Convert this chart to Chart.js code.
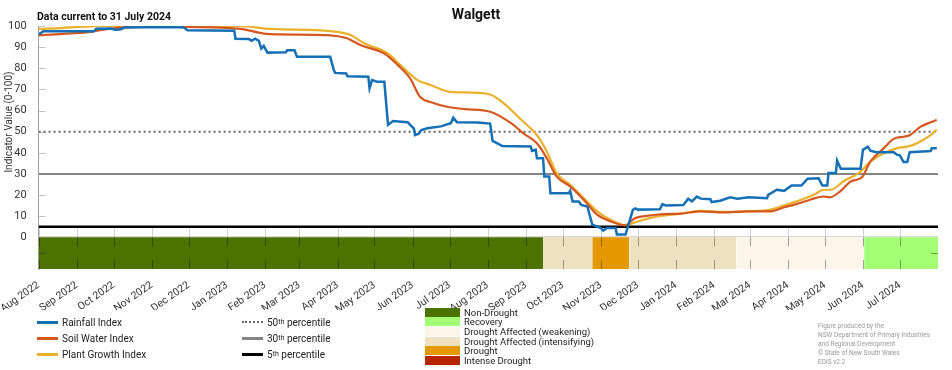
<!DOCTYPE html>
<html>
<head>
<meta charset="utf-8">
<script src="https://cdn.jsdelivr.net/npm/chart.js@4.4.1/dist/chart.umd.min.js"></script>
<style>
  body { margin: 0; background: #fff; }
  #wrap { position: relative; width: 952px; height: 370px; font-family: Roboto, sans-serif; color: #222; }
  #wrap canvas { position: absolute; left: 0; top: 0; }
  .row { position: absolute; display: flex; align-items: center; white-space: nowrap; }
  .line-key { font-size: 10px; }
  .band-key { font-size: 9.5px; }
  .band-key .sw { width: 35px; height: 9px; margin-right: 4px; }
  .line-key .ln { width: 21px; height: 0; margin-right: 4px; }
  sup { font-size: 7px; line-height: 0; vertical-align: 4px; }
  #credit { position: absolute; left: 818px; top: 322px; font-size: 6.5px; line-height: 9px; color: #999; }
</style>
</head>
<body>
<div id="wrap">
  <canvas id="myChart" width="952" height="370"></canvas>
  <div id="legend"></div>
  <div id="credit">Figure produced by the<br>NSW Department of Primary Industries<br>and Regional Development<br>© State of New South Wales<br>EDIS v2.2</div>
</div>
<script>
const stationName = 'Walgett';
const dataCurrentTo = 'Data current to 31 July 2024';

// x values are days since 1 Aug 2022
const rainDays = [0, 4, 45, 47, 59, 62, 66, 70, 110, 118, 121, 159, 160, 171, 173, 176, 179, 181, 183, 186,
  201, 202, 208, 210, 237, 240, 241, 250, 251, 268, 269, 271, 275, 281, 284, 288, 300, 302, 305, 306,
  309, 311, 316, 327, 335, 337, 340, 357, 367, 369, 377, 400, 401, 404, 405, 410, 411, 415, 416, 431,
  432, 434, 439, 441, 446, 450, 457, 459, 462, 469, 470, 477, 478, 483, 485, 487, 505, 507, 510, 524,
  528, 531, 535, 538, 546, 547, 554, 562, 568, 577, 592, 593, 600, 606, 612, 620, 625, 634, 637, 641,
  642, 648, 649, 652, 668, 670, 674, 676, 681, 695, 698, 700, 703, 706, 708, 725, 726, 730];
const rainValues = [96, 97.5, 97.5, 98.7, 98.8, 98.2, 98.3, 99.3, 99.5, 99.3, 98, 97.8, 94, 93.8, 93, 94, 93, 89.3, 90.6, 87.4,
  87.6, 88.5, 88.5, 85.4, 85.4, 79, 77.8, 77.5, 76.2, 76, 70.5, 74.4, 73.6, 73.6, 53.2, 55, 54.5, 53.2, 51.5, 48.4,
  49, 50.8, 51.6, 52.5, 54, 56.6, 54.5, 54.3, 53.8, 45.6, 43.2, 43, 40.9, 41.5, 37.4, 37.4, 28.8, 28.8, 20.9, 20.9,
  22, 17, 17, 15.3, 14.6, 6, 4.4, 3.2, 4.4, 4.4, 1.3, 1.3, 3.2, 13, 13.7, 13.1, 13.3, 15.7, 15, 15.3,
  18.3, 17, 19.3, 18.3, 18, 16.7, 17.3, 18.9, 18.3, 18.9, 18.5, 20.1, 22.5, 22, 24.5, 24.5, 27.7, 27.9, 24.5, 24.5,
  30.4, 30.4, 36.3, 32.4, 32.4, 41.4, 42.9, 41, 40.3, 40.3, 39, 38.8, 35.6, 35.6, 40.3, 40.8, 42.2, 42.2];

const soilDays = [0, 42, 59, 88, 162, 183, 197, 237, 250, 254, 262, 281, 292, 302, 310, 319, 332, 346, 367, 384,
  394, 405, 413, 421, 432, 443, 454, 465, 477, 484, 495, 508, 522, 538, 557, 576, 595, 606, 616, 627,
  638, 643, 652, 660, 669, 676, 687, 695, 703, 708, 717, 725, 730];
const soilValues = [95.6, 97.2, 98.8, 99.7, 98.8, 96.4, 96, 95.6, 94.3, 93.3, 90.9, 87, 81.5, 75.2, 66.5, 63.9, 61.8, 60.7, 59.4, 54,
  49.2, 44.5, 37.5, 28.8, 24.1, 17.8, 10.7, 7.5, 5.7, 8.8, 10.2, 11, 11.2, 12.3, 11.8, 12.3, 12.3, 14.2, 15.7, 17.8,
  19.3, 18.9, 22, 26.4, 28.3, 35.8, 42.2, 46.6, 47.6, 48.3, 52.4, 54.4, 55.5];

const plantDays = [0, 59, 162, 189, 237, 250, 254, 265, 284, 294, 308, 319, 335, 351, 367, 378, 394, 405, 413, 421,
  432, 443, 454, 465, 477, 487, 503, 522, 538, 557, 576, 595, 606, 616, 630, 638, 644, 654, 668, 676,
  687, 698, 706, 714, 725, 730];
const plantValues = [98.5, 100, 100, 98.6, 97.6, 96.4, 95.6, 91.7, 87, 81.5, 74.4, 72, 68.8, 68.5, 67.6, 63.4, 54.7, 48.4, 40.6, 30.4,
  24.9, 18.6, 12.3, 8.3, 5.7, 7.5, 9.9, 11.2, 12.5, 12, 12.3, 13.1, 15.1, 17, 20.1, 22.5, 22.5, 26.4, 31.1, 35.8,
  39.8, 42.2, 42.9, 44.5, 48.4, 50.8];

const seriesNames = ['Rainfall Index', 'Soil Water Index', 'Plant Growth Index'];
const seriesColors = ['#1570b6', '#d4581f', '#ebb02c'];

const percentileLevels = [50, 30, 5];
const percentileNames = ['50', '30', '5'];

const droughtCategories = ['Non-Drought', 'Recovery', 'Drought Affected (weakening)',
  'Drought Affected (intensifying)', 'Drought', 'Intense Drought'];
const droughtColors = ['#4c7300', '#a3ff73', '#fdf5e9', '#eee2c0', '#e69800', '#b52600'];

// drought status periods, days since 1 Aug 2022
const bandCategory = ['Non-Drought', 'Drought Affected (intensifying)', 'Drought',
  'Drought Affected (intensifying)', 'Drought Affected (weakening)', 'Recovery'];
const bandStart = [0, 410, 450, 480, 567, 671];
const bandEnd = [410, 450, 480, 567, 671, 731];

const monthLabels = ['Aug 2022', 'Sep 2022', 'Oct 2022', 'Nov 2022', 'Dec 2022', 'Jan 2023', 'Feb 2023',
  'Mar 2023', 'Apr 2023', 'May 2023', 'Jun 2023', 'Jul 2023', 'Aug 2023', 'Sep 2023', 'Oct 2023',
  'Nov 2023', 'Dec 2023', 'Jan 2024', 'Feb 2024', 'Mar 2024', 'Apr 2024', 'May 2024', 'Jun 2024', 'Jul 2024'];
const yTicks = [0, 10, 20, 30, 40, 50, 60, 70, 80, 90, 100];

const DAY = 86400000;
const origin = Date.UTC(2022, 7, 1);
const monthDays = monthLabels.map((_, i) => (Date.UTC(2022, 7 + i, 1) - origin) / DAY);
const xMax = (Date.UTC(2024, 7, 1) - origin) / DAY;
const bandFloor = -15;

const toPoints = (xs, ys) => xs.map((x, i) => ({ x: x, y: ys[i] }));

const indexSets = [
  [rainDays, rainValues, 2.5, 0],
  [soilDays, soilValues, 2.2, 0.3],
  [plantDays, plantValues, 2.2, 0.3]
].map(([xs, ys, w, t], i) => ({
  label: seriesNames[i],
  data: toPoints(xs, ys),
  borderColor: seriesColors[i],
  borderWidth: w,
  tension: t,
  cubicInterpolationMode: t ? 'monotone' : 'default',
  pointRadius: 0,
  fill: false,
  order: 1
}));

const pctStyle = [
  { color: '#666', width: 2, dash: [2, 3] },
  { color: '#858585', width: 2, dash: [] },
  { color: '#000', width: 2.5, dash: [] }
];
const pctSets = percentileLevels.map((v, i) => ({
  label: percentileNames[i] + 'th percentile',
  data: [{ x: 0, y: v }, { x: xMax, y: v }],
  borderColor: pctStyle[i].color,
  borderWidth: pctStyle[i].width,
  borderDash: pctStyle[i].dash,
  pointRadius: 0,
  fill: false,
  order: 2
}));

const bandSets = bandCategory.map((c, i) => ({
  label: c,
  data: [{ x: bandStart[i], y: 0 }, { x: bandEnd[i], y: 0 }],
  borderWidth: 0,
  borderColor: 'transparent',
  backgroundColor: droughtColors[droughtCategories.indexOf(c)],
  fill: { value: bandFloor },
  pointRadius: 0,
  order: 3
}));

const decor = {
  id: 'decor',
  beforeDatasetsDraw(chart) {
    const { ctx, chartArea: a, scales: { x, y } } = chart;
    ctx.save();
    // zero line
    ctx.strokeStyle = '#c8c8c8';
    ctx.lineWidth = 1;
    ctx.beginPath();
    ctx.moveTo(a.left, y.getPixelForValue(0) - 0.5);
    ctx.lineTo(a.right, y.getPixelForValue(0) - 0.5);
    ctx.stroke();
    // month lines between 5th percentile and zero
    ctx.strokeStyle = '#cfcfcf';
    monthDays.forEach(d => {
      const px = Math.round(x.getPixelForValue(d)) + 0.5;
      ctx.beginPath();
      ctx.moveTo(px, y.getPixelForValue(5));
      ctx.lineTo(px, y.getPixelForValue(0));
      ctx.stroke();
    });
    // inner ticks on y axis
    ctx.strokeStyle = '#c0c0c0';
    yTicks.slice(1).forEach(v => {
      const py = Math.round(y.getPixelForValue(v)) + 0.5;
      ctx.beginPath();
      ctx.moveTo(a.left, py);
      ctx.lineTo(a.left + 7, py);
      ctx.stroke();
    });
    ctx.restore();
  },
  afterDatasetsDraw(chart) {
    const { ctx, chartArea: a, scales: { x, y } } = chart;
    const top = y.getPixelForValue(0), bot = y.getPixelForValue(bandFloor);
    ctx.save();
    ctx.strokeStyle = 'rgba(0,0,0,0.35)';
    ctx.lineWidth = 1;
    monthDays.forEach(d => {
      const px = Math.round(x.getPixelForValue(d)) + 0.5;
      ctx.beginPath();
      ctx.moveTo(px, top);
      ctx.lineTo(px, top + 9);
      ctx.moveTo(px, bot - 9);
      ctx.lineTo(px, bot);
      ctx.stroke();
    });
    const mid = Math.round(y.getPixelForValue(bandFloor / 2)) + 0.5;
    ctx.beginPath();
    ctx.moveTo(a.left, mid); ctx.lineTo(a.left + 7, mid);
    ctx.moveTo(a.right - 7, mid); ctx.lineTo(a.right, mid);
    ctx.stroke();

    // titles
    ctx.fillStyle = '#111';
    ctx.textBaseline = 'middle';
    ctx.font = 'bold 14px Roboto';
    ctx.textAlign = 'center';
    ctx.fillText(stationName, chart.width / 2, 15);
    ctx.font = 'bold 10.5px Roboto';
    ctx.textAlign = 'left';
    ctx.fillText(dataCurrentTo, 37, 17);
    ctx.translate(9, 122);
    ctx.rotate(-Math.PI / 2);
    ctx.textAlign = 'center';
    ctx.fillStyle = '#333';
    ctx.font = '10px Roboto';
    ctx.fillText('Indicator Value (0-100)', 0, 0);
    ctx.restore();
  }
};

Chart.defaults.font.family = 'Roboto';
Chart.defaults.color = '#333';

new Chart(document.getElementById('myChart'), {
  type: 'line',
  data: { datasets: [...indexSets, ...pctSets, ...bandSets] },
  options: {
    responsive: false,
    animation: false,
    parsing: true,
    layout: { padding: { top: 26, right: 14, bottom: 60, left: 0 } },
    plugins: { legend: { display: false }, tooltip: { enabled: false } },
    scales: {
      x: {
        type: 'linear',
        min: 0,
        max: xMax,
        grid: { display: false },
        border: { display: false },
        afterBuildTicks: axis => { axis.ticks = monthDays.map(v => ({ value: v })); },
        afterFit: axis => { axis.height = 41; },
        ticks: {
          autoSkip: false,
          minRotation: 35,
          maxRotation: 35,
          padding: 2,
          font: { size: 10.5 },
          callback: (v, i) => monthLabels[i]
        }
      },
      y: {
        min: bandFloor,
        max: 100,
        grid: { display: false },
        border: { display: true, color: '#a0a0a0' },
        afterBuildTicks: axis => { axis.ticks = yTicks.map(v => ({ value: v })); },
        afterFit: axis => { axis.width = 38; },
        ticks: { padding: 4, font: { size: 11 }, callback: v => String(v) }
      }
    }
  },
  plugins: [decor]
});

// legend
const legend = document.getElementById('legend');
const lineRowsY = [322, 338, 354];
seriesNames.forEach((n, i) => {
  const r = document.createElement('div');
  r.className = 'row line-key';
  r.style.left = '37px';
  r.style.top = (lineRowsY[i] - 7) + 'px';
  r.style.height = '14px';
  r.innerHTML = `<span class="ln" style="border-top:3px solid ${seriesColors[i]}"></span>${n}`;
  legend.appendChild(r);
});
percentileNames.forEach((n, i) => {
  const r = document.createElement('div');
  r.className = 'row line-key';
  r.style.left = '242px';
  r.style.top = (lineRowsY[i] - 7) + 'px';
  r.style.height = '14px';
  const st = pctStyle[i];
  const border = st.dash.length ? `2px dotted ${st.color}` : `${st.width + 1}px solid ${st.color}`;
  r.innerHTML = `<span class="ln" style="border-top:${border}"></span>${n}<sup>th</sup>&nbsp;percentile`;
  legend.appendChild(r);
});
const bandRowsY = [312, 321.5, 331, 341, 350.5, 360];
droughtCategories.forEach((c, i) => {
  const r = document.createElement('div');
  r.className = 'row band-key';
  r.style.left = '425px';
  r.style.top = (bandRowsY[i] - 5) + 'px';
  r.style.height = '10px';
  r.innerHTML = `<span class="sw" style="background:${droughtColors[i]}"></span>${c}`;
  legend.appendChild(r);
});
</script>
</body>
</html>
